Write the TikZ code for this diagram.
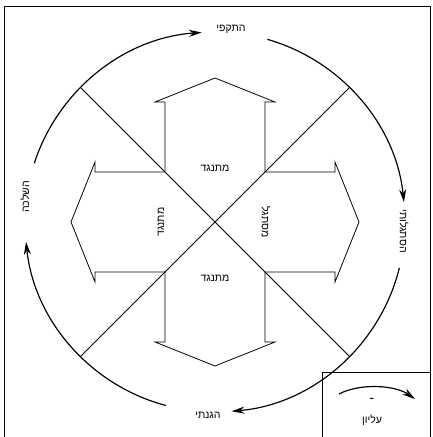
\documentclass[tikz,border=0pt]{standalone}
\usepackage{fontspec}
\usetikzlibrary{arrows.meta}
\newfontfamily\hebfont[Script=Hebrew]{Liberation Sans}
\TeXXeTstate=1
\newcommand{\heb}[1]{{\hebfont\beginR #1\endR}}

\begin{document}
\begin{tikzpicture}[x=0.03cm, y=0.03cm, line width=0.7pt,
    lbl/.style={font=\small, inner sep=1pt},
    ring/.style={line width=1pt, -{Stealth[length=11pt, width=6pt]}}]
    \useasboundingbox (0,0) rectangle (433,437);
    \coordinate (o) at (215,215);
    % Frame and the key box.
        \draw[thin] (4,0) |- (430,431) -- (430,0);
        \draw (322,0) |- (430,65);
    % This draws the cross of four arrows.
        \draw[shift={(215,215)}] (-50,50) -- (-50,120) -- (-60,120) -- (0,144) -- (60,120) -- (50,120)
            -- (50,50) -- (120,50) -- (120,60) -- (144,0) -- (120,-60) -- (120,-50)
            -- (50,-50) -- (50,-120) -- (60,-120) -- (0,-144) -- (-60,-120) -- (-50,-120)
            -- (-50,-50) -- (-120,-50) -- (-120,-60) -- (-144,0) -- (-120,60) -- (-120,50) -- cycle;
    % The two diagonals.
        \coordinate (nw) at ([shift={(135:190)}]o);
        \coordinate (ne) at ([shift={(45:190)}]o);
        \coordinate (sw) at ([shift={(225:190)}]o);
        \coordinate (se) at ([shift={(-45:190)}]o);
        \draw (nw) -- (se);
        \draw (ne) -- (sw);
    % Circle arrows, clockwise.
        \draw[ring] ([shift={(162:190)}]o) arc[start angle=162, end angle=94, radius=190];
        \draw[ring] ([shift={(74:190)}]o) arc[start angle=74, end angle=6, radius=190];
        \draw[ring] ([shift={(-14:190)}]o) arc[start angle=-14, end angle=-85, radius=190];
        \draw[ring] ([shift={(-105:190)}]o) arc[start angle=-105, end angle=-174, radius=190];
    % Below nodes are the labels.
        \node[lbl] (attack) at (231,408) {\heb{התקפי}};
        \node[lbl, rotate=-90] (adapt) at (404,206) {\heb{הסתגלותי}};
        \node[lbl] (defend) at (208,22) {\heb{הגנתי}};
        \node[lbl, rotate=90] (project) at (25,240) {\heb{השלכה}};
        \node[lbl] (oppTop) at (215,269) {\heb{מתנגד}};
        \node[lbl] (oppBot) at (215,159) {\heb{מתנגד}};
        \node[lbl, rotate=90] (oppLeft) at (161,215) {\heb{מתנגד}};
        \node[lbl, rotate=-90] (adjRight) at (266,215) {\heb{מסתגל}};
    % Key in the corner box.
        \draw[ring] (339,43) .. controls (360,54) and (395,52) .. (415,38);
        \node[lbl, font=\bfseries] (minus) at (372,37) {-};
        \node[lbl] (upper) at (372,17) {\heb{עליון}};
\end{tikzpicture}
\end{document}
